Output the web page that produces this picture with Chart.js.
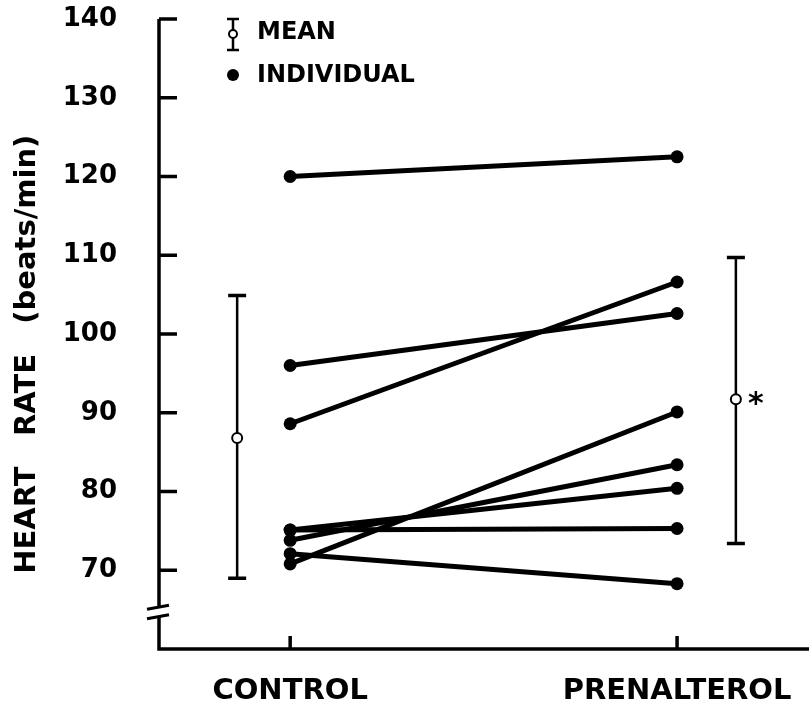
<!DOCTYPE html>
<html>
<head>
<meta charset="utf-8">
<script src="https://cdn.jsdelivr.net/npm/chart.js@4.4.1/dist/chart.umd.min.js"></script>
<style>
  html, body { margin: 0; padding: 0; background: #fff; }
  canvas { display: block; }
</style>
</head>
<body>
<canvas id="chart" width="809" height="712"></canvas>
<script>
// data
const categories = ['CONTROL', 'PRENALTEROL'];
const controlHR = [120, 96, 88.6, 75.1, 75.1, 73.8, 72.1, 70.8];
const prenalterolHR = [122.5, 102.6, 106.6, 75.3, 80.4, 83.4, 68.3, 90.1];
const meanHR = [86.8, 91.7];
const meanUpper = [104.9, 109.7];
const meanLower = [69.0, 73.4];
const yTicks = [70, 80, 90, 100, 110, 120, 130, 140];

// layout (x is 1 for control, 2 for prenalterol)
const MEAN_SHIFT = [-0.137, 0.152];
const FONT = 'DejaVu Sans';

const datasets = controlHR.map((c, i) => ({
  type: 'line',
  data: [{ x: 1, y: c }, { x: 2, y: prenalterolHR[i] }],
  borderColor: '#000',
  backgroundColor: '#000',
  borderWidth: 5,
  pointRadius: 6.5,
  pointHoverRadius: 6.5,
  pointBorderWidth: 0,
  fill: false,
}));

datasets.push({
  type: 'scatter',
  data: meanHR.map((m, i) => ({ x: i + 1 + MEAN_SHIFT[i], y: m })),
  pointRadius: 5,
  pointBorderWidth: 2,
  borderColor: '#000',
  backgroundColor: '#fff',
});

const decor = {
  id: 'decor',
  beforeDatasetsDraw(chart) {
    const { ctx, scales: { x, y } } = chart;
    ctx.save();
    ctx.strokeStyle = '#000';
    ctx.lineCap = 'butt';
    // error bars
    meanHR.forEach((m, i) => {
      const px = x.getPixelForValue(i + 1 + MEAN_SHIFT[i]);
      const top = y.getPixelForValue(meanUpper[i]);
      const bot = y.getPixelForValue(meanLower[i]);
      ctx.lineWidth = 2.5;
      ctx.beginPath();
      ctx.moveTo(px, top); ctx.lineTo(px, bot);
      ctx.stroke();
      ctx.lineWidth = 3.5;
      ctx.beginPath();
      ctx.moveTo(px - 9, top); ctx.lineTo(px + 9, top);
      ctx.moveTo(px - 9, bot); ctx.lineTo(px + 9, bot);
      ctx.stroke();
    });
    ctx.restore();
  },
  afterDraw(chart) {
    const { ctx, chartArea: a, scales: { x, y } } = chart;
    ctx.save();
    ctx.strokeStyle = '#000';
    ctx.fillStyle = '#000';
    ctx.lineWidth = 3.5;
    // y axis with break
    const yTop = y.getPixelForValue(140);
    const b1 = y.getPixelForValue(65.3);
    const b2 = y.getPixelForValue(64.1);
    ctx.beginPath();
    ctx.moveTo(a.left, yTop); ctx.lineTo(a.left, b1);
    ctx.moveTo(a.left, b2); ctx.lineTo(a.left, a.bottom);
    ctx.lineTo(a.right, a.bottom);
    ctx.stroke();
    ctx.lineWidth = 3;
    ctx.beginPath();
    ctx.moveTo(a.left - 12, b1 + 2); ctx.lineTo(a.left + 10, b1 - 2);
    ctx.moveTo(a.left - 12, b2 + 2); ctx.lineTo(a.left + 10, b2 - 2);
    ctx.stroke();
    // inward ticks
    ctx.lineWidth = 3.5;
    ctx.beginPath();
    yTicks.forEach(v => {
      const py = y.getPixelForValue(v);
      ctx.moveTo(a.left, py); ctx.lineTo(a.left + 18, py);
    });
    [1, 2].forEach(v => {
      const px = x.getPixelForValue(v);
      ctx.moveTo(px, a.bottom); ctx.lineTo(px, a.bottom - 13);
    });
    ctx.stroke();

    // asterisk next to prenalterol mean
    ctx.font = `bold 30px ${FONT}`;
    ctx.textAlign = 'left';
    ctx.textBaseline = 'middle';
    ctx.fillText('*', x.getPixelForValue(2 + MEAN_SHIFT[1]) + 12, y.getPixelForValue(meanHR[1]) + 6);

    // legend
    const lx = 233;
    ctx.lineWidth = 2.5;
    ctx.beginPath();
    ctx.moveTo(lx, 19); ctx.lineTo(lx, 50);
    ctx.moveTo(lx - 6, 19); ctx.lineTo(lx + 6, 19);
    ctx.moveTo(lx - 6, 50); ctx.lineTo(lx + 6, 50);
    ctx.stroke();
    ctx.beginPath();
    ctx.fillStyle = '#fff';
    ctx.lineWidth = 2;
    ctx.arc(lx, 34, 4, 0, Math.PI * 2);
    ctx.fill(); ctx.stroke();
    ctx.fillStyle = '#000';
    ctx.beginPath();
    ctx.arc(lx, 75, 6, 0, Math.PI * 2);
    ctx.fill();
    ctx.font = `bold 24px ${FONT}`;
    ctx.fillText('MEAN', 257, 33);
    ctx.fillText('INDIVIDUAL', 257, 76);
    ctx.restore();
  }
};

new Chart(document.getElementById('chart'), {
  data: { datasets },
  options: {
    responsive: false,
    animation: false,
    devicePixelRatio: 1,
    layout: { autoPadding: false, padding: { top: 19, right: 0, left: 0, bottom: 0 } },
    plugins: { legend: { display: false }, tooltip: { enabled: false } },
    scales: {
      x: {
        type: 'linear',
        min: 0.661,
        max: 2.341,
        afterBuildTicks: s => { s.ticks = [1, 2].map(v => ({ value: v })); },
        afterFit: s => { s.height = 63; s.paddingLeft = 0; s.paddingRight = 0; },
        grid: { display: false, drawTicks: false },
        border: { display: false },
        ticks: {
          color: '#000',
          font: { family: FONT, size: 29, weight: 'bold' },
          padding: 25,
          maxRotation: 0,
          callback: v => categories[v - 1],
        },
      },
      y: {
        type: 'linear',
        min: 60,
        max: 140,
        afterBuildTicks: s => { s.ticks = yTicks.map(v => ({ value: v })); },
        afterFit: s => { s.width = 159; s.paddingTop = 0; s.paddingBottom = 0; },
        grid: { display: false, drawTicks: false },
        border: { display: false },
        ticks: {
          color: '#000',
          font: { family: FONT, size: 26, weight: 'bold' },
          padding: 42,
        },
        title: {
          display: true,
          text: 'HEART   RATE   (beats/min)    ',
          color: '#000',
          font: { family: FONT, size: 29, weight: 'bold' },
          padding: { top: 10, bottom: 0 },
        },
      },
    },
  },
  plugins: [decor],
});
</script>
</body>
</html>
